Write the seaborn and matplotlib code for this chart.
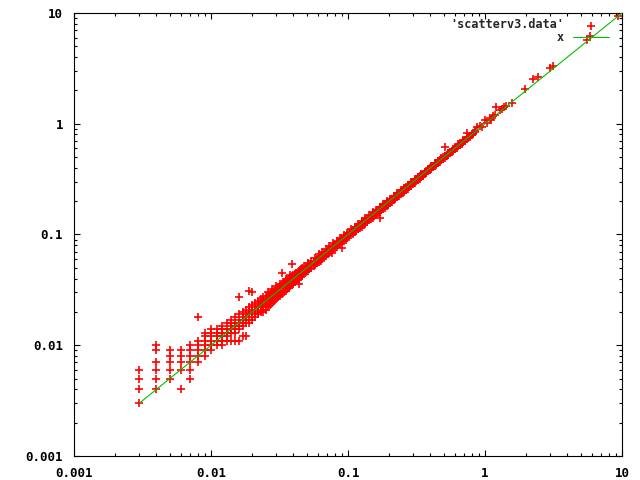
import matplotlib
matplotlib.use("Agg")
import matplotlib.pyplot as plt
import seaborn as sns
import pandas as pd
from matplotlib import ticker

# ---------------------------------------------------------------
# data (log-log scatter + y = x line)

# low end, values quantised to 0.001
x_low = [0.003, 0.003, 0.003, 0.003,
         0.004, 0.004, 0.004, 0.004, 0.004, 0.004,
         0.005, 0.005, 0.005, 0.005, 0.005,
         0.006, 0.006, 0.006, 0.006, 0.006,
         0.007, 0.007, 0.007, 0.007, 0.007, 0.007,
         0.008, 0.008, 0.008, 0.008, 0.008, 0.008,
         0.009, 0.009, 0.009, 0.009, 0.009, 0.009,
         0.010, 0.010, 0.010, 0.010, 0.010, 0.010]
y_low = [0.003, 0.004, 0.005, 0.006,
         0.004, 0.005, 0.006, 0.007, 0.009, 0.010,
         0.005, 0.006, 0.007, 0.008, 0.009,
         0.004, 0.006, 0.007, 0.008, 0.009,
         0.005, 0.006, 0.007, 0.008, 0.009, 0.010,
         0.007, 0.008, 0.009, 0.010, 0.011, 0.018,
         0.008, 0.009, 0.010, 0.011, 0.012, 0.013,
         0.009, 0.010, 0.011, 0.012, 0.013, 0.014]

x_b = [0.011, 0.011, 0.011, 0.011, 0.011,
       0.012, 0.012, 0.012, 0.012, 0.012, 0.012,
       0.013, 0.013, 0.013, 0.013, 0.013,
       0.014, 0.014, 0.014, 0.014, 0.014, 0.014,
       0.015, 0.015, 0.015, 0.015, 0.015, 0.015,
       0.016, 0.016, 0.016, 0.016, 0.016, 0.016, 0.016,
       0.017, 0.017, 0.017, 0.017, 0.017, 0.017,
       0.018, 0.018, 0.018, 0.018, 0.018, 0.018,
       0.019, 0.019, 0.019, 0.019, 0.019, 0.019,
       0.020, 0.020, 0.020, 0.020, 0.020, 0.020,
       0.021, 0.021, 0.021, 0.021, 0.021,
       0.022, 0.022, 0.022, 0.022, 0.022,
       0.023, 0.023, 0.023, 0.023, 0.023,
       0.024, 0.024, 0.024, 0.024, 0.024,
       0.025, 0.025, 0.025, 0.025, 0.025]
y_b = [0.010, 0.011, 0.012, 0.013, 0.014,
       0.010, 0.011, 0.012, 0.013, 0.014, 0.015,
       0.011, 0.012, 0.013, 0.014, 0.016,
       0.011, 0.013, 0.014, 0.015, 0.016, 0.017,
       0.011, 0.013, 0.014, 0.015, 0.016, 0.018,
       0.011, 0.014, 0.015, 0.016, 0.017, 0.019, 0.027,
       0.012, 0.015, 0.016, 0.017, 0.018, 0.020,
       0.012, 0.016, 0.017, 0.018, 0.019, 0.021,
       0.016, 0.017, 0.019, 0.020, 0.022, 0.031,
       0.017, 0.018, 0.020, 0.021, 0.023, 0.030,
       0.018, 0.019, 0.021, 0.022, 0.024,
       0.019, 0.020, 0.022, 0.023, 0.025,
       0.020, 0.021, 0.023, 0.024, 0.026,
       0.020, 0.022, 0.024, 0.025, 0.027,
       0.021, 0.023, 0.025, 0.026, 0.028]

x_c = [0.026, 0.026, 0.026, 0.026, 0.027, 0.027, 0.027,
       0.028, 0.028, 0.028, 0.028, 0.029, 0.029, 0.029,
       0.030, 0.030, 0.030, 0.030, 0.031, 0.031, 0.031,
       0.032, 0.032, 0.032, 0.032, 0.033, 0.033, 0.033, 0.033,
       0.034, 0.034, 0.034, 0.035, 0.035, 0.035, 0.035,
       0.036, 0.036, 0.036, 0.037, 0.037, 0.037,
       0.038, 0.038, 0.038, 0.038, 0.039, 0.039, 0.039, 0.039,
       0.040, 0.040, 0.040, 0.041, 0.041, 0.041,
       0.042, 0.042, 0.042, 0.043, 0.043, 0.043,
       0.044, 0.044, 0.044, 0.044, 0.045, 0.045, 0.045]
y_c = [0.022, 0.025, 0.028, 0.030, 0.023, 0.026, 0.029,
       0.024, 0.027, 0.030, 0.032, 0.025, 0.029, 0.031,
       0.026, 0.028, 0.031, 0.034, 0.027, 0.030, 0.033,
       0.028, 0.031, 0.034, 0.036, 0.029, 0.033, 0.036, 0.045,
       0.030, 0.034, 0.037, 0.031, 0.035, 0.038, 0.040,
       0.032, 0.036, 0.039, 0.033, 0.037, 0.040,
       0.034, 0.038, 0.041, 0.043, 0.035, 0.039, 0.042, 0.054,
       0.036, 0.040, 0.043, 0.037, 0.041, 0.044,
       0.038, 0.042, 0.045, 0.039, 0.043, 0.046,
       0.036, 0.040, 0.044, 0.047, 0.041, 0.045, 0.048]

x_mid = [0.046, 0.046, 0.046, 0.048, 0.048, 0.048, 0.049, 0.049,
         0.051, 0.051, 0.051, 0.052, 0.052, 0.054, 0.054, 0.054,
         0.056, 0.056, 0.057, 0.057, 0.057, 0.059, 0.059,
         0.061, 0.061, 0.061, 0.063, 0.063, 0.065, 0.065, 0.065,
         0.067, 0.067, 0.069, 0.069, 0.069, 0.071, 0.071,
         0.073, 0.073, 0.073, 0.075, 0.075, 0.076,
         0.078, 0.078, 0.078, 0.080, 0.080, 0.083, 0.083, 0.083,
         0.085, 0.085, 0.088, 0.088, 0.088, 0.091, 0.091, 0.091,
         0.093, 0.093, 0.093, 0.096, 0.096, 0.099, 0.099, 0.099,
         0.102, 0.102, 0.105, 0.105, 0.105, 0.108, 0.108,
         0.112, 0.112, 0.112, 0.115, 0.115, 0.119, 0.119, 0.119,
         0.122, 0.122, 0.126, 0.126, 0.126, 0.130, 0.130,
         0.134, 0.134, 0.134, 0.138, 0.138, 0.142, 0.142, 0.142,
         0.146, 0.146, 0.151, 0.151, 0.151, 0.155, 0.155,
         0.160, 0.160, 0.160, 0.165, 0.165, 0.170, 0.170, 0.170, 0.170,
         0.175, 0.175, 0.180, 0.180, 0.180, 0.186, 0.186,
         0.191, 0.191, 0.191, 0.197, 0.197, 0.203, 0.203, 0.203,
         0.209, 0.209, 0.215, 0.215, 0.215, 0.222, 0.222,
         0.229, 0.229, 0.229, 0.235, 0.235, 0.242, 0.242, 0.242,
         0.250, 0.250, 0.257, 0.257, 0.257, 0.265, 0.265,
         0.273, 0.273, 0.273, 0.281, 0.281, 0.290, 0.290, 0.290,
         0.298, 0.298]
y_mid = [0.042, 0.047, 0.050, 0.044, 0.048, 0.052, 0.046, 0.051,
         0.047, 0.050, 0.055, 0.049, 0.054, 0.050, 0.053, 0.058,
         0.052, 0.057, 0.053, 0.056, 0.061, 0.055, 0.060,
         0.056, 0.062, 0.066, 0.058, 0.064, 0.060, 0.065, 0.070,
         0.062, 0.068, 0.064, 0.070, 0.074, 0.066, 0.072,
         0.068, 0.073, 0.078, 0.070, 0.076, 0.0685,
         0.073, 0.078, 0.083, 0.075, 0.081, 0.077, 0.083, 0.088,
         0.080, 0.086, 0.082, 0.088, 0.093, 0.075, 0.085, 0.091,
         0.087, 0.094, 0.098, 0.090, 0.097, 0.093, 0.099, 0.104,
         0.096, 0.103, 0.098, 0.105, 0.111, 0.102, 0.109,
         0.105, 0.112, 0.118, 0.108, 0.116, 0.112, 0.119, 0.125,
         0.115, 0.123, 0.118, 0.126, 0.132, 0.122, 0.131,
         0.126, 0.134, 0.141, 0.130, 0.139, 0.134, 0.142, 0.149,
         0.137, 0.147, 0.142, 0.151, 0.158, 0.146, 0.156,
         0.151, 0.160, 0.167, 0.155, 0.166, 0.142, 0.160, 0.170, 0.178,
         0.165, 0.176, 0.170, 0.180, 0.188, 0.175, 0.187,
         0.180, 0.191, 0.199, 0.186, 0.198, 0.192, 0.203, 0.211,
         0.197, 0.210, 0.204, 0.215, 0.223, 0.210, 0.223,
         0.217, 0.229, 0.237, 0.222, 0.236, 0.230, 0.242, 0.250,
         0.237, 0.251, 0.244, 0.257, 0.265, 0.252, 0.266,
         0.260, 0.273, 0.281, 0.268, 0.282, 0.276, 0.290, 0.298,
         0.284, 0.299]

x_up = [0.306, 0.306, 0.306, 0.315, 0.315, 0.324, 0.324, 0.324,
        0.333, 0.333, 0.343, 0.343, 0.343, 0.352, 0.352,
        0.362, 0.362, 0.362, 0.373, 0.373, 0.384, 0.384, 0.384,
        0.395, 0.395, 0.406, 0.406, 0.406, 0.418, 0.418,
        0.430, 0.430, 0.430, 0.442, 0.442, 0.455, 0.455, 0.455,
        0.468, 0.468, 0.481, 0.481, 0.481, 0.495, 0.495,
        0.509, 0.509, 0.509, 0.524, 0.524, 0.539, 0.539, 0.539,
        0.555, 0.555, 0.571, 0.571, 0.587, 0.587, 0.587,
        0.604, 0.604, 0.621, 0.621, 0.639, 0.639, 0.639,
        0.657, 0.657, 0.676, 0.676, 0.695, 0.695, 0.695,
        0.715, 0.715, 0.736, 0.736, 0.736, 0.757, 0.757,
        0.778, 0.778, 0.800, 0.800, 0.820, 0.820, 0.850, 0.850, 0.870]
y_up = [0.293, 0.307, 0.314, 0.302, 0.316, 0.311, 0.324, 0.332,
        0.320, 0.334, 0.330, 0.343, 0.351, 0.339, 0.353,
        0.349, 0.362, 0.370, 0.360, 0.374, 0.371, 0.384, 0.392,
        0.382, 0.396, 0.393, 0.407, 0.415, 0.405, 0.419,
        0.416, 0.431, 0.438, 0.428, 0.443, 0.441, 0.456, 0.463,
        0.454, 0.469, 0.466, 0.482, 0.490, 0.480, 0.496,
        0.494, 0.510, 0.620, 0.509, 0.525, 0.524, 0.540, 0.548,
        0.540, 0.556, 0.556, 0.572, 0.572, 0.588, 0.597,
        0.589, 0.605, 0.606, 0.622, 0.624, 0.640, 0.650,
        0.642, 0.658, 0.661, 0.677, 0.681, 0.697, 0.708,
        0.701, 0.716, 0.722, 0.737, 0.830, 0.743, 0.758,
        0.765, 0.780, 0.790, 0.805, 0.810, 0.826, 0.835, 0.852, 0.940]

# sparse top end
x_top = [0.92, 0.95, 1.00, 1.03, 1.08, 1.10, 1.14, 1.18, 1.20, 1.28, 1.33,
         1.37, 1.42, 1.57, 1.95, 2.23, 2.43, 2.98, 3.13, 5.55, 5.83, 9.4]
y_top = [0.95, 0.93, 1.09, 1.01, 1.12, 1.09, 1.18, 1.20, 1.43, 1.33, 1.36,
         1.42, 1.45, 1.55, 2.04, 2.51, 2.62, 3.16, 3.30, 5.68, 6.17, 9.4]

# function "x"
line_x = [0.003, 10]
line_y = [0.003, 10]

tick_vals = [0.001, 0.01, 0.1, 1, 10]
tick_labels = ["0.001", "0.01", "0.1", "1", "10"]

df = pd.DataFrame({
    "x": x_low + x_b + x_c + x_mid + x_up + x_top,
    "y": y_low + y_b + y_c + y_mid + y_up + y_top,
})

# ---------------------------------------------------------------
sns.set_style("ticks")
plt.rcParams['font.family'] = ['DejaVu Sans Mono']
plt.rcParams['font.weight'] = 'bold'
plt.rcParams['font.size'] = 9
plt.rcParams['axes.linewidth'] = 0.8
plt.rcParams['axes.edgecolor'] = 'black'

fig = plt.figure(figsize=(6.4, 4.8), dpi=100)
ax = fig.add_axes([74 / 640, 1 - 456 / 480, 548 / 640, 443 / 480])

sns.scatterplot(data=df, x="x", y="y", marker="+", s=40, color="#ff0000",
                linewidth=1.2, label="'scatterv3.data'", ax=ax, zorder=2)
sns.lineplot(x=line_x, y=line_y, color="#00c000", linewidth=0.8,
             label="x", ax=ax, zorder=3)

ax.set_xscale("log")
ax.set_yscale("log")
ax.set_xlim(0.001, 10)
ax.set_ylim(0.001, 10)
ax.set_xticks(tick_vals)
ax.set_xticklabels(tick_labels)
ax.set_yticks(tick_vals)
ax.set_yticklabels(tick_labels)
ax.xaxis.set_minor_locator(ticker.LogLocator(base=10, subs=range(2, 10)))
ax.yaxis.set_minor_locator(ticker.LogLocator(base=10, subs=range(2, 10)))
ax.xaxis.set_minor_formatter(ticker.NullFormatter())
ax.yaxis.set_minor_formatter(ticker.NullFormatter())
ax.tick_params(which="both", direction="in", top=True, right=True,
               colors="black", labelsize=9)
ax.tick_params(which="major", length=4.5, width=0.8)
ax.tick_params(which="minor", length=2.5, width=0.8)
ax.tick_params(axis="x", which="major", pad=8)
ax.tick_params(axis="y", which="major", pad=8)
ax.set_xlabel("")
ax.set_ylabel("")

handles, labels = ax.get_legend_handles_labels()
ax.legend(handles, labels, loc="upper right", bbox_to_anchor=(0.976, 0.988),
          markerfirst=False, frameon=False, handlelength=3,
          handletextpad=0.8, borderpad=0, borderaxespad=0,
          labelspacing=0.0, handleheight=0.6,
          prop=dict(family="DejaVu Sans Mono", weight="bold", size=8.5))

fig.savefig("out.png", dpi=100)
